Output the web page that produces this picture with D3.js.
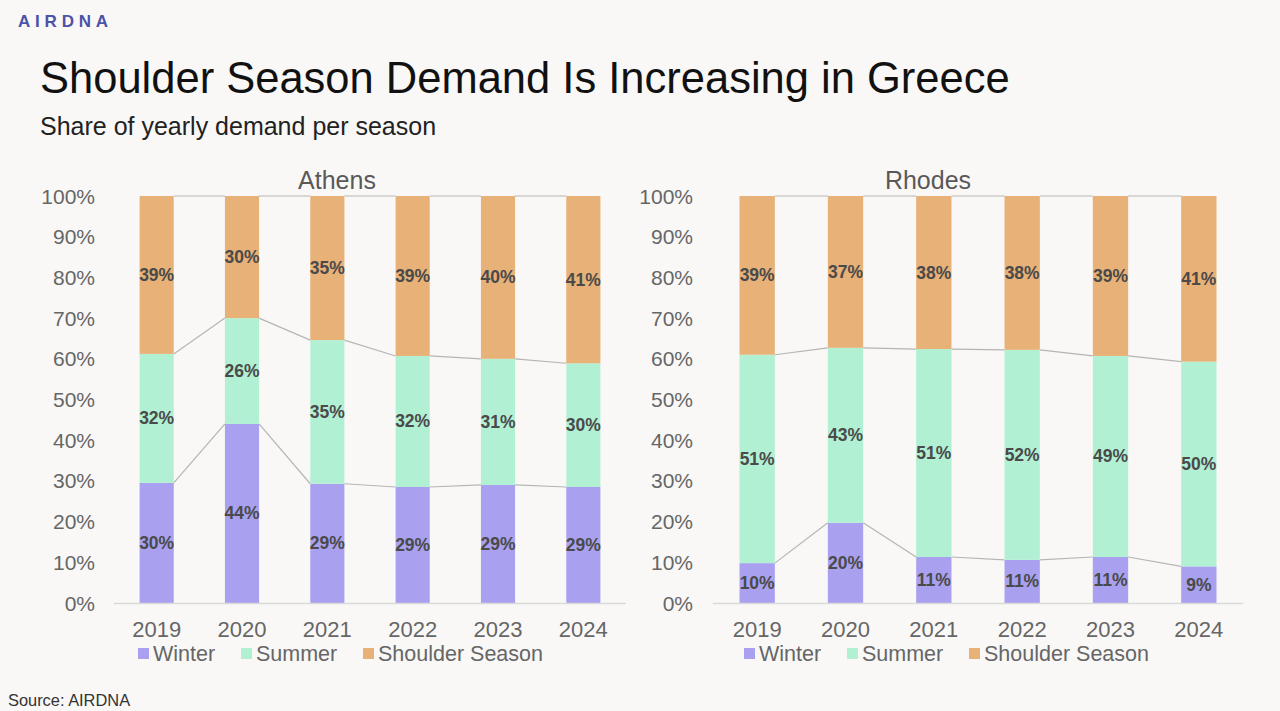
<!DOCTYPE html>
<html>
<head>
<meta charset="utf-8">
<script src="https://cdn.jsdelivr.net/npm/d3@7"></script>
<style>
  body { margin: 0; background: #f9f8f7; }
  svg { display: block; font-family: "Liberation Sans", Arial, sans-serif; }
</style>
</head>
<body>
<script>
// data (share of yearly demand, %)
let years = ["2019", "2020", "2021", "2022", "2023", "2024"];
let seasons = ["Winter", "Summer", "Shoulder Season"];
let colors = ["#a9a1f0", "#b2f0d4", "#e8b178"];
let yTicks = [0, 10, 20, 30, 40, 50, 60, 70, 80, 90, 100];

let athensWinter = [29.5, 44, 29.3, 28.5, 29, 28.5];
let athensSummer = [31.7, 26, 35.3, 32.2, 31, 30.4];
let athensShoulder = [38.8, 30, 35.4, 39.3, 40, 41.1];

let rhodesWinter = [9.8, 19.7, 11.3, 10.6, 11.3, 9];
let rhodesSummer = [51.2, 43, 51.1, 51.6, 49.4, 50.3];
let rhodesShoulder = [39, 37.3, 37.6, 37.8, 39.3, 40.7];

let W = 1280, H = 711;
let svg = d3.select("body").append("svg").attr("width", W).attr("height", H);

// logo
svg.append("text").text("AIRDNA")
  .attr("x", 18).attr("y", 27)
  .attr("font-size", "17px").attr("font-weight", "bold")
  .attr("letter-spacing", "4.8px")
  .attr("fill", "#4b53a8");

svg.append("text").text("Shoulder Season Demand Is Increasing in Greece")
  .attr("x", 40).attr("y", 93)
  .attr("font-size", "43.5px").attr("fill", "#111");

svg.append("text").text("Share of yearly demand per season")
  .attr("x", 40).attr("y", 135)
  .attr("font-size", "25px").attr("fill", "#222");

svg.append("text").text("Source: AIRDNA")
  .attr("x", 8).attr("y", 706)
  .attr("font-size", "16.4px").attr("fill", "#333");

function drawPanel(title, winter, summer, shoulder, left, right, tickX, legendX, titleX) {
  let g = svg.append("g");
  let top = 196, bottom = 603;

  let x = d3.scaleBand().domain(years).range([left, right]).paddingInner(0.6).paddingOuter(0.3);
  let y = d3.scaleLinear().domain([0, 100]).range([bottom, top]);

  let rows = years.map(function(yr, i) {
    return { year: yr, Winter: winter[i], Summer: summer[i], "Shoulder Season": shoulder[i] };
  });
  let stacked = d3.stack().keys(seasons)(rows);

  g.append("text").text(title)
    .attr("x", titleX).attr("y", 189)
    .attr("text-anchor", "middle")
    .attr("font-size", "25px").attr("fill", "#595959");

  // y axis labels
  g.selectAll(".ytick").data(yTicks).enter().append("text")
    .attr("x", tickX).attr("y", function(d) { return y(d) + 7.5; })
    .attr("text-anchor", "end")
    .attr("font-size", "21px").attr("fill", "#666")
    .text(function(d) { return d + "%"; });

  // connector lines between bar tops
  stacked.forEach(function(layer) {
    for (let i = 0; i < years.length - 1; i++) {
      g.append("line")
        .attr("x1", x(years[i]) + x.bandwidth()).attr("y1", y(layer[i][1]))
        .attr("x2", x(years[i + 1])).attr("y2", y(layer[i + 1][1]))
        .attr("stroke", "#b5b5b5").attr("stroke-width", 1.2);
    }
  });

  stacked.forEach(function(layer, k) {
    g.selectAll(".bar" + k).data(layer).enter().append("rect")
      .attr("x", function(d) { return x(d.data.year); })
      .attr("y", function(d) { return y(d[1]); })
      .attr("width", x.bandwidth())
      .attr("height", function(d) { return y(d[0]) - y(d[1]); })
      .attr("fill", colors[k]);

    g.selectAll(".lab" + k).data(layer).enter().append("text")
      .attr("x", function(d) { return x(d.data.year) + x.bandwidth() / 2; })
      .attr("y", function(d) { return (y(d[0]) + y(d[1])) / 2 + 6; })
      .attr("text-anchor", "middle")
      .attr("font-size", "17.5px").attr("font-weight", "bold").attr("fill", "#4a4a4a")
      .text(function(d) { return Math.round(d[1] - d[0]) + "%"; });
  });

  // baseline
  g.append("line")
    .attr("x1", left).attr("x2", right)
    .attr("y1", bottom + 0.5).attr("y2", bottom + 0.5)
    .attr("stroke", "#d9d9d9").attr("stroke-width", 1.5);

  g.selectAll(".xl").data(years).enter().append("text")
    .attr("x", function(d) { return x(d) + x.bandwidth() / 2; })
    .attr("y", 637)
    .attr("text-anchor", "middle")
    .attr("font-size", "22px").attr("fill", "#666")
    .text(function(d) { return d; });

  // legend
  let offsets = [0, 103, 225];
  seasons.forEach(function(s, k) {
    g.append("rect")
      .attr("x", legendX + offsets[k]).attr("y", 648)
      .attr("width", 11).attr("height", 11)
      .attr("fill", colors[k]);
    g.append("text").text(s)
      .attr("x", legendX + offsets[k] + 15).attr("y", 661)
      .attr("font-size", "21.5px").attr("fill", "#666");
  });
}

drawPanel("Athens", athensWinter, athensSummer, athensShoulder, 114, 626, 95, 138, 337);
drawPanel("Rhodes", rhodesWinter, rhodesSummer, rhodesShoulder, 713, 1243, 693, 744, 928);
</script>
</body>
</html>
